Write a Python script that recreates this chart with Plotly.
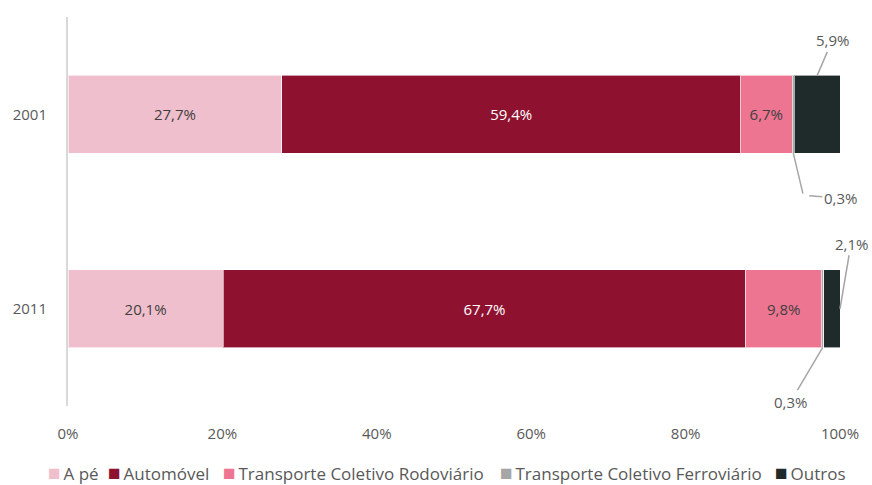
import plotly.graph_objects as go

years = ["2001", "2011"]
modes = ["A pé", "Automóvel", "Transporte Coletivo Rodoviário",
         "Transporte Coletivo Ferroviário", "Outros"]
a_pe = [27.7, 20.1]
automovel = [59.4, 67.7]
rodoviario = [6.7, 9.8]
ferroviario = [0.3, 0.3]
outros = [5.9, 2.1]
x_ticks = [0, 20, 40, 60, 80, 100]

series = [a_pe, automovel, rodoviario, ferroviario, outros]
colors = ["#F0BFCD", "#8E1230", "#EE7591", "#A6A6A6", "#1F2A2B"]
text_colors = ["#404040", "#FFFFFF", "#404040", "#404040", "#FFFFFF"]
inside = [True, True, True, False, False]

FONT = "Open Sans"
GRAY = "#595959"
FS = 15

# plot area in pixels (used only to place the legend row)
PL, PR, PT, PB = 68, 840, 16.5, 406.5


def fmt(v):
    return f"{v:.1f}".replace(".", ",") + "%"


fig = go.Figure()
for name, vals, col, tcol, ins in zip(modes, series, colors, text_colors, inside):
    fig.add_trace(go.Bar(
        y=years, x=vals, name=name, orientation="h",
        marker=dict(color=col, line=dict(color="rgba(255,255,255,0.6)", width=1)),
        text=[fmt(v) for v in vals] if ins else None,
        textposition="inside" if ins else "none",
        insidetextanchor="middle",
        textfont=dict(color=tcol, size=FS, family=FONT),
        width=0.4, hoverinfo="x+name", showlegend=False,
    ))

cum = [[sum(s[i] for s in series[:k]) for i in range(2)] for k in range(6)]
line_c = "#A6A6A6"
ann = []
# Outros 2001 (top callout)
ann.append(dict(x=cum[4][0] + outros[0] / 2, y=-0.2, text=fmt(outros[0]),
                ax=15, ay=-35, showarrow=True, arrowhead=0, arrowwidth=1.5,
                arrowcolor=line_c))
# Ferroviario 2001 bent callout
fx = cum[3][0] + ferroviario[0] / 2
ann.append(dict(x=fx, y=0.2, text="", ax=10, ay=42, showarrow=True,
                arrowhead=0, arrowwidth=1.5, arrowcolor=line_c))
ann.append(dict(x=fx, y=0.2, xshift=10, yshift=-42, text=fmt(ferroviario[0]),
                ax=37, ay=3, showarrow=True, arrowhead=0, arrowwidth=1.5,
                arrowcolor=line_c, standoff=6))
# Outros 2011
ann.append(dict(x=cum[5][1], y=1, text=fmt(outros[1]), ax=11, ay=-65,
                showarrow=True, arrowhead=0, arrowwidth=1.5, arrowcolor=line_c))
# Ferroviario 2011
ann.append(dict(x=cum[3][1] + ferroviario[1] / 2, y=1.2, text=fmt(ferroviario[1]),
                ax=-32, ay=54, showarrow=True, arrowhead=0, arrowwidth=1.5,
                arrowcolor=line_c))
for a in ann:
    a.update(xref="x", yref="y", font=dict(size=FS, color=GRAY, family=FONT))

# Legend row: one entry per series (swatch + label)
legend_left_px = [47, 107, 222, 499, 774]
leg_y = -(473 - PB) / (PB - PT)
for m, c, lx in zip(modes, colors, legend_left_px):
    ann.append(dict(xref="paper", yref="paper", x=(lx - PL) / (PR - PL),
                    y=leg_y, xanchor="left", yanchor="middle", showarrow=False,
                    text=f"<span style='color:{c};font-size:21px'>■</span>\u2009{m}",
                    borderpad=0,
                    font=dict(size=17, color=GRAY, family=FONT)))

fig.update_layout(
    barmode="stack",
    width=872, height=485,
    margin=dict(l=PL, r=872 - PR, t=PT, b=485 - PB, autoexpand=False),
    paper_bgcolor="white", plot_bgcolor="white",
    font=dict(family=FONT, size=FS, color=GRAY),
    separators=",.",
    showlegend=False,
    annotations=ann,
    xaxis=dict(range=[0, 100], tickvals=x_ticks,
               ticktext=[f"{t}%" for t in x_ticks], showgrid=False,
               zeroline=False, showline=False, ticks="",
               ticklabelstandoff=17, tickfont=dict(size=FS, color=GRAY)),
    yaxis=dict(autorange="reversed", showline=True, linecolor="#D9D9D9",
               linewidth=2, showgrid=False, ticks="", ticklabelstandoff=16,
               tickfont=dict(size=FS, color=GRAY)),
)

fig.write_html("out.html")
